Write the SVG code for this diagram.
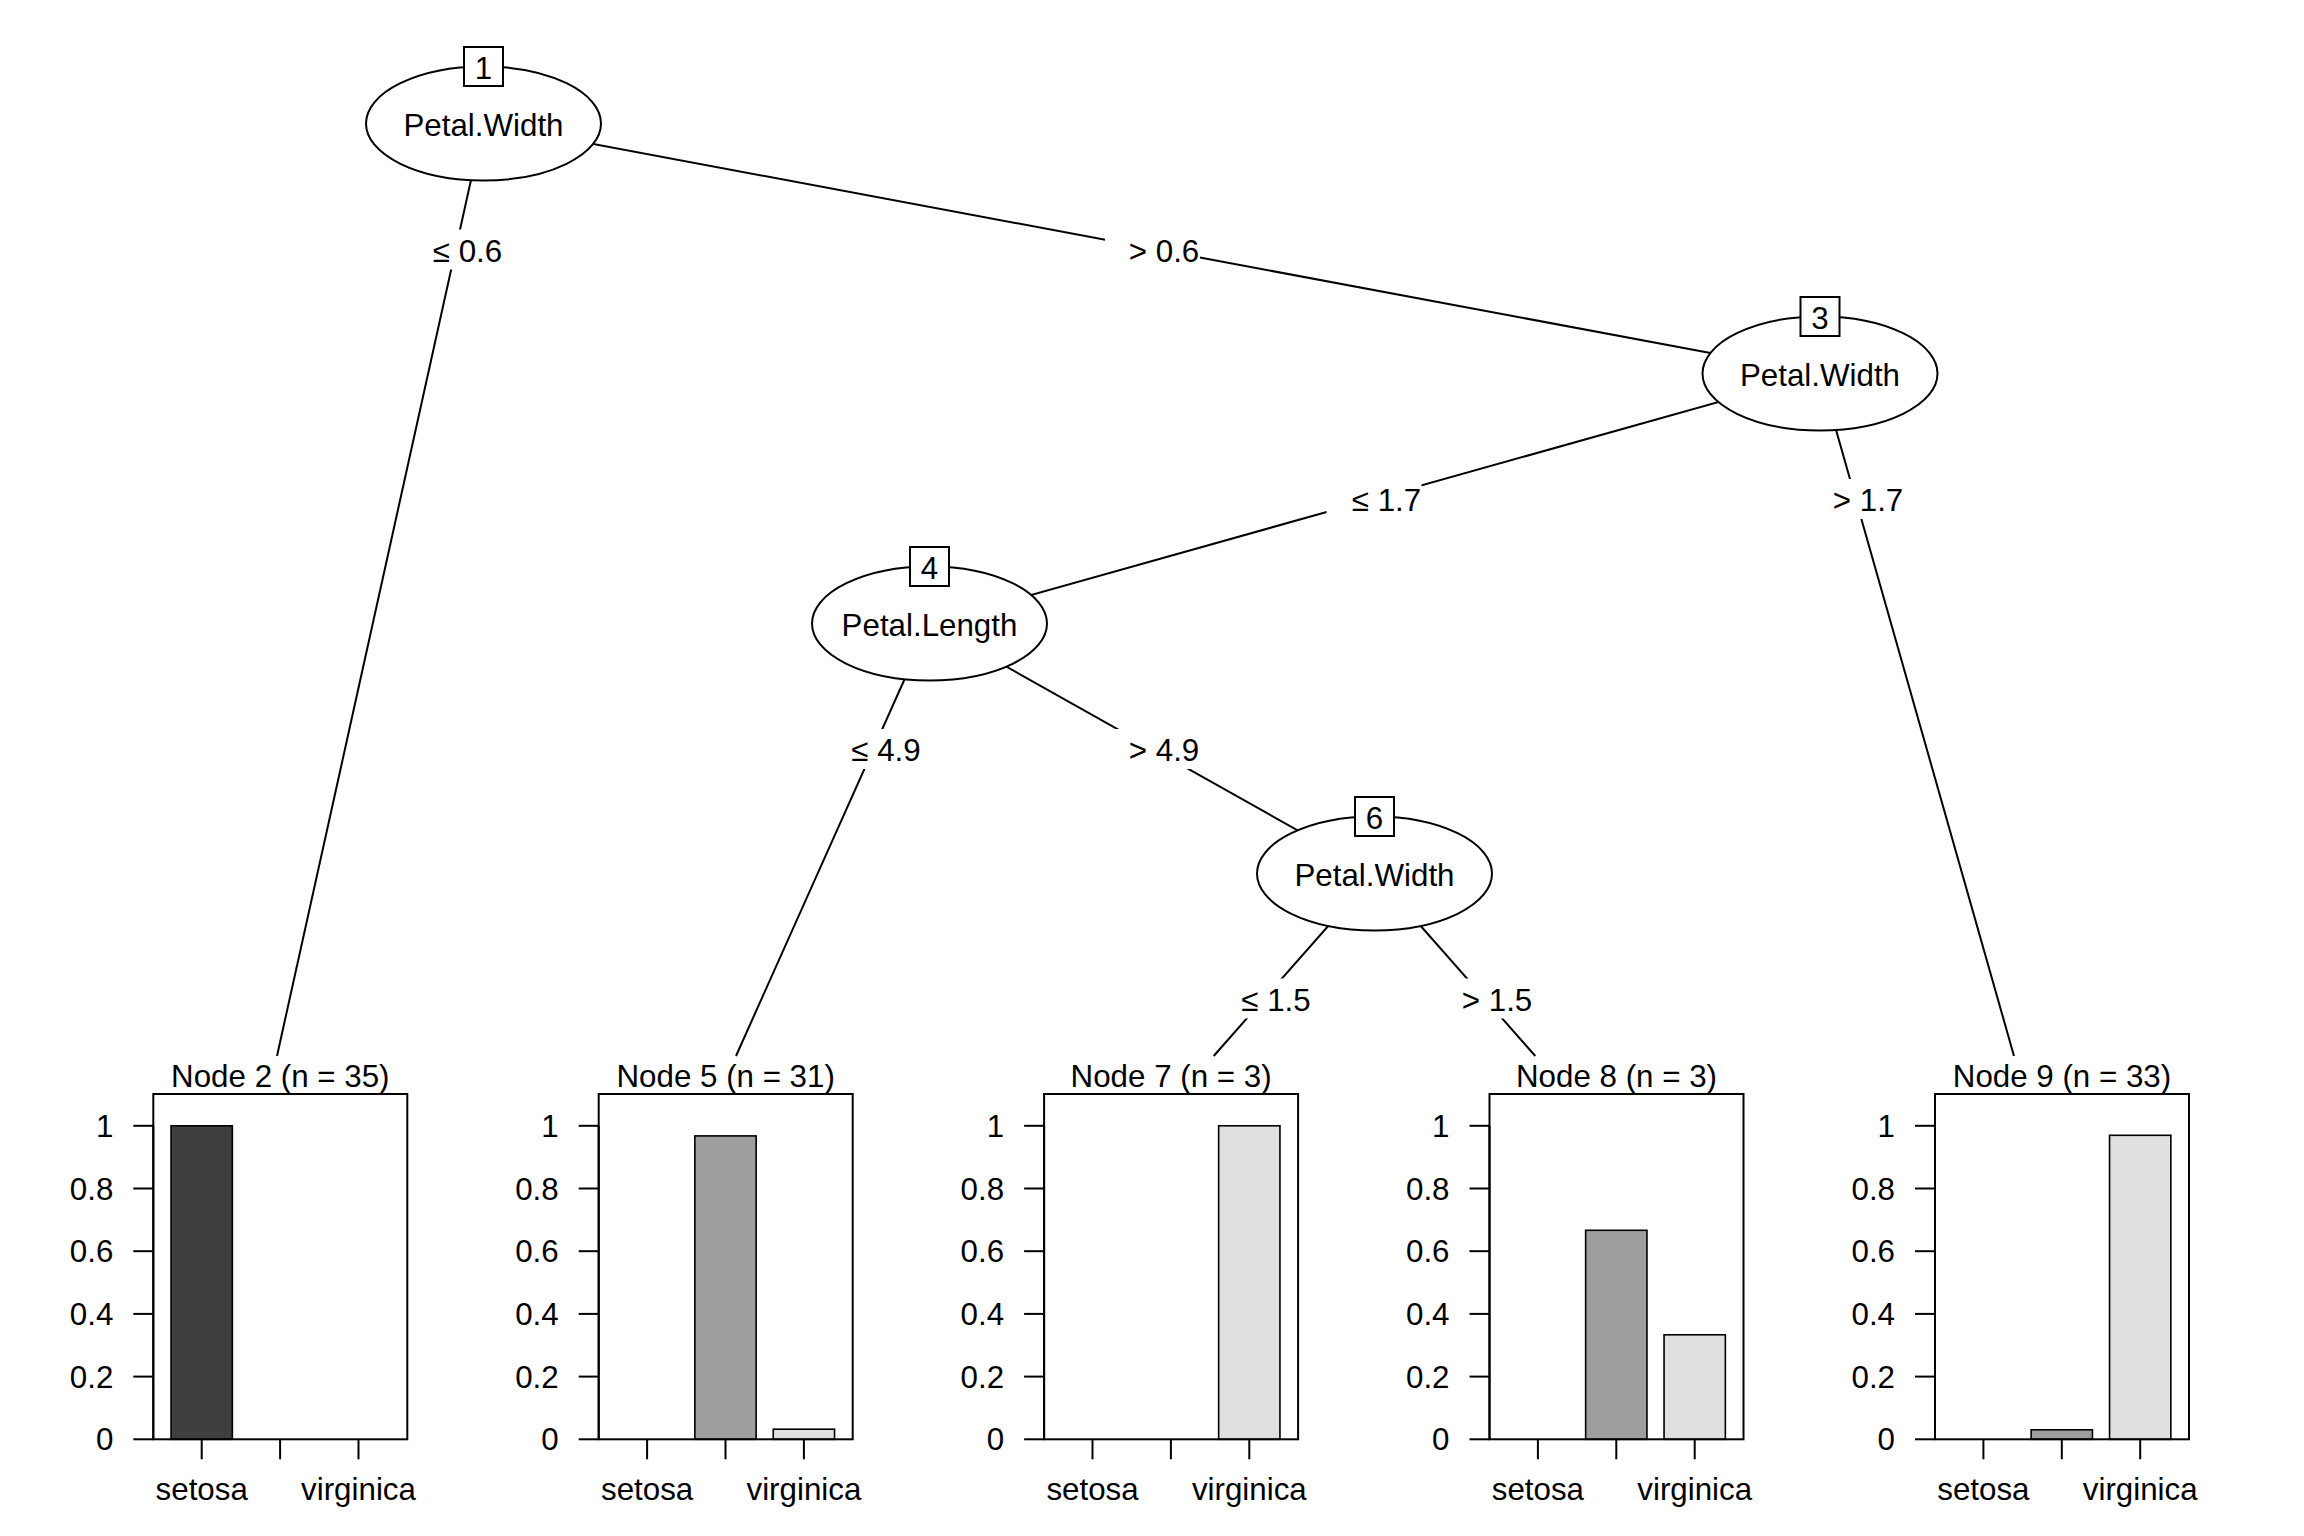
<svg xmlns="http://www.w3.org/2000/svg" width="2304" height="1536" viewBox="0 0 2304 1536">
<style>
text{font-family:"Liberation Sans",Arial,sans-serif;font-size:31.3px;fill:#000}
.c{text-anchor:middle}
.r{text-anchor:end}
.edge{stroke:#000;stroke-width:2;fill:none}
.lbg{fill:#fff;stroke:none}
.ell{fill:#fff;stroke:#000;stroke-width:2}
.idb{fill:#fff;stroke:#000;stroke-width:2}
.frame{fill:none;stroke:#000;stroke-width:2}
.tk{stroke:#000;stroke-width:2}
.bar{stroke:#000;stroke-width:1.6}
.s1{fill:#3f3f3f}
.s2{fill:#9e9e9e}
.s3{fill:#e0e0e0}
</style>
<rect width="2304" height="1536" fill="#fff"/>
<defs>
<g id="axes">
<line class="tk" x1="-20" y1="1439.3" x2="0" y2="1439.3"/>
<line class="tk" x1="-20" y1="1376.6" x2="0" y2="1376.6"/>
<line class="tk" x1="-20" y1="1313.9" x2="0" y2="1313.9"/>
<line class="tk" x1="-20" y1="1251.2" x2="0" y2="1251.2"/>
<line class="tk" x1="-20" y1="1188.5" x2="0" y2="1188.5"/>
<line class="tk" x1="-20" y1="1125.8" x2="0" y2="1125.8"/>
<line class="tk" x1="0" y1="1125.8" x2="0" y2="1439.3"/>
<text class="r" x="-40" y="1450.3">0</text>
<text class="r" x="-40" y="1387.6">0.2</text>
<text class="r" x="-40" y="1324.9">0.4</text>
<text class="r" x="-40" y="1262.2">0.6</text>
<text class="r" x="-40" y="1199.5">0.8</text>
<text class="r" x="-40" y="1136.8">1</text>
<line class="tk" x1="48.4" y1="1439.3" x2="48.4" y2="1459.3"/>
<line class="tk" x1="126.8" y1="1439.3" x2="126.8" y2="1459.3"/>
<line class="tk" x1="205.2" y1="1439.3" x2="205.2" y2="1459.3"/>
<text class="c" x="48.4" y="1500">setosa</text>
<text class="c" x="205.2" y="1500">virginica</text>
</g>
</defs>

<g id="connectors">
<line class="edge" x1="483.5" y1="123.5" x2="277" y2="1056"/>
<line class="edge" x1="483.5" y1="123.5" x2="1820" y2="373.5"/>
<line class="edge" x1="1820" y1="373.5" x2="929.5" y2="623.5"/>
<line class="edge" x1="1820" y1="373.5" x2="2014" y2="1056"/>
<line class="edge" x1="929.5" y1="623.5" x2="736" y2="1056"/>
<line class="edge" x1="929.5" y1="623.5" x2="1374.5" y2="873.5"/>
<line class="edge" x1="1374.5" y1="873.5" x2="1213.7" y2="1056"/>
<line class="edge" x1="1374.5" y1="873.5" x2="1535.3" y2="1056"/>
<g id="edge-labels">
<rect class="lbg" x="408" y="229.5" width="95" height="40"/>
<text class="c" x="467.5" y="261.5">≤ 0.6</text>
<rect class="lbg" x="1105" y="229.5" width="95" height="40"/>
<text class="c" x="1164" y="261.5">&gt; 0.6</text>
<rect class="lbg" x="1326.5" y="479" width="95" height="40"/>
<text class="c" x="1386.5" y="511">≤ 1.7</text>
<rect class="lbg" x="1808" y="479" width="95" height="40"/>
<text class="c" x="1868" y="511">&gt; 1.7</text>
<rect class="lbg" x="826" y="729" width="95" height="40"/>
<text class="c" x="886" y="761">≤ 4.9</text>
<rect class="lbg" x="1105.5" y="729" width="95" height="40"/>
<text class="c" x="1164" y="761">&gt; 4.9</text>
<rect class="lbg" x="1217" y="978.5" width="95" height="40"/>
<text class="c" x="1276" y="1010.5">≤ 1.5</text>
<rect class="lbg" x="1437" y="978.5" width="95" height="40"/>
<text class="c" x="1497" y="1010.5">&gt; 1.5</text>
</g>
</g>

<g id="node1">
<ellipse class="ell" cx="483.5" cy="123.5" rx="117.5" ry="57"/>
<text class="c" x="483.5" y="135.5">Petal.Width</text>
<rect class="idb" x="464" y="47" width="39" height="39"/>
<text class="c" x="483.5" y="78.5">1</text>
</g>
<g id="node3">
<ellipse class="ell" cx="1820" cy="373.5" rx="117.5" ry="57"/>
<text class="c" x="1820" y="385.5">Petal.Width</text>
<rect class="idb" x="1800.5" y="297" width="39" height="39"/>
<text class="c" x="1820" y="328.5">3</text>
</g>
<g id="node4">
<ellipse class="ell" cx="929.5" cy="623.5" rx="117.5" ry="57"/>
<text class="c" x="929.5" y="635.5">Petal.Length</text>
<rect class="idb" x="910" y="547" width="39" height="39"/>
<text class="c" x="929.5" y="578.5">4</text>
</g>
<g id="node6">
<ellipse class="ell" cx="1374.5" cy="873.5" rx="117.5" ry="57"/>
<text class="c" x="1374.5" y="885.5">Petal.Width</text>
<rect class="idb" x="1355" y="797" width="39" height="39"/>
<text class="c" x="1374.5" y="828.5">6</text>
</g>

<g id="node2" transform="translate(153.3,0)">
<text class="c" x="127" y="1086.7">Node 2 (n = 35)</text>
<rect class="bar s1" x="17.75" y="1125.8" width="61.3" height="313.5"/>
<use href="#axes"/>
<rect class="frame" x="0" y="1094" width="254" height="345.3"/>
</g>
<g id="node5" transform="translate(598.7,0)">
<text class="c" x="127" y="1086.7">Node 5 (n = 31)</text>
<rect class="bar s2" x="96.15" y="1135.9" width="61.3" height="303.4"/>
<rect class="bar s3" x="174.55" y="1429.2" width="61.3" height="10.1"/>
<use href="#axes"/>
<rect class="frame" x="0" y="1094" width="254" height="345.3"/>
</g>
<g id="node7" transform="translate(1044.1,0)">
<text class="c" x="127" y="1086.7">Node 7 (n = 3)</text>
<rect class="bar s3" x="174.55" y="1125.8" width="61.3" height="313.5"/>
<use href="#axes"/>
<rect class="frame" x="0" y="1094" width="254" height="345.3"/>
</g>
<g id="node8" transform="translate(1489.5,0)">
<text class="c" x="127" y="1086.7">Node 8 (n = 3)</text>
<rect class="bar s2" x="96.15" y="1230.3" width="61.3" height="209"/>
<rect class="bar s3" x="174.55" y="1334.8" width="61.3" height="104.5"/>
<use href="#axes"/>
<rect class="frame" x="0" y="1094" width="254" height="345.3"/>
</g>
<g id="node9" transform="translate(1935,0)">
<text class="c" x="127" y="1086.7">Node 9 (n = 33)</text>
<rect class="bar s2" x="96.15" y="1429.8" width="61.3" height="9.5"/>
<rect class="bar s3" x="174.55" y="1135.3" width="61.3" height="304"/>
<use href="#axes"/>
<rect class="frame" x="0" y="1094" width="254" height="345.3"/>
</g>
</svg>
